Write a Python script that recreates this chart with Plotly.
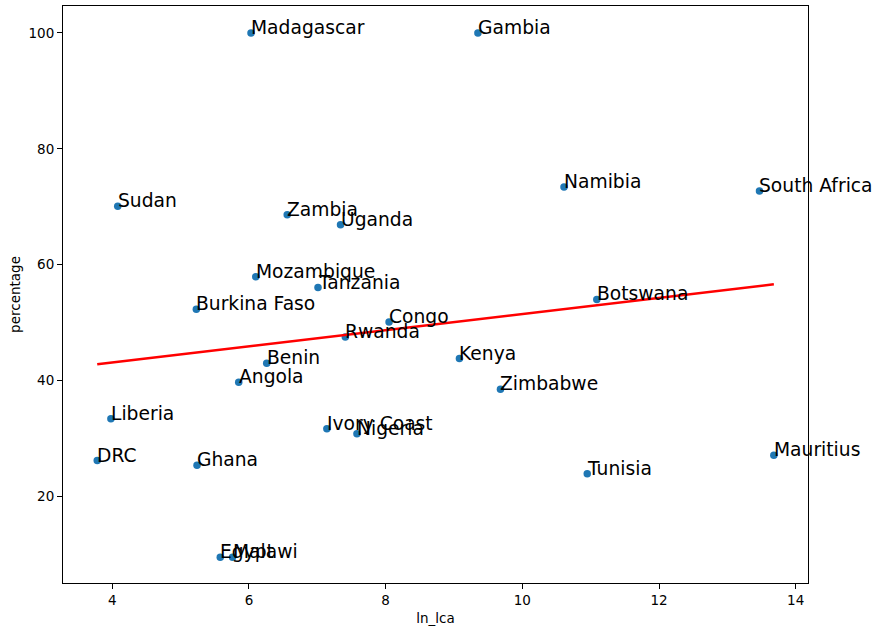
import plotly.graph_objects as go

countries = ["Madagascar", "Gambia", "Sudan", "Zambia", "Uganda", "Mozambique", "Tanzania",
             "Burkina Faso", "Congo", "Rwanda", "Benin", "Angola", "Kenya", "Liberia",
             "Ivory Coast", "Nigeria", "DRC", "Ghana", "Egypt", "Malawi", "Namibia",
             "South Africa", "Botswana", "Zimbabwe", "Tunisia", "Mauritius"]
ln_lca = [6.03, 9.35, 4.08, 6.56, 7.34, 6.10, 7.01,
          5.23, 8.05, 7.41, 6.26, 5.85, 9.08, 3.98,
          7.14, 7.58, 3.78, 5.24, 5.58, 5.76, 10.61,
          13.47, 11.09, 9.68, 10.95, 13.68]
percentage = [100.0, 100.0, 70.1, 68.6, 66.9, 57.9, 56.05,
              52.3, 50.1, 47.5, 43.0, 39.7, 43.8, 33.4,
              31.7, 30.8, 26.2, 25.4, 9.5, 9.5, 73.4,
              72.7, 54.0, 38.5, 23.9, 27.1]
fit_x = [3.78, 13.68]
fit_y = [42.8, 56.6]

x_ticks = [4, 6, 8, 10, 12, 14]
y_ticks = [20, 40, 60, 80, 100]

fig = go.Figure()
fig.add_trace(go.Scatter(x=ln_lca, y=percentage, mode="markers",
                         marker=dict(color="#1f77b4", size=7.5), showlegend=False))
fig.add_trace(go.Scatter(x=fit_x, y=fit_y, mode="lines",
                         line=dict(color="red", width=2.5), showlegend=False))

for name, xv, yv in zip(countries, ln_lca, percentage):
    fig.add_annotation(x=xv, y=yv, text=name, showarrow=False,
                       xanchor="left", yanchor="bottom", xshift=-2, yshift=-7,
                       font=dict(family="DejaVu Sans", size=18.7, color="black"))

axis_common = dict(showline=True, linecolor="black", linewidth=1, mirror=True,
                   ticks="outside", ticklen=5, tickcolor="black", showgrid=False,
                   zeroline=False, tickfont=dict(family="DejaVu Sans", size=13.5, color="black"))
fig.update_xaxes(range=[3.279, 14.18], tickvals=x_ticks,
                 title=dict(text="ln_lca", font=dict(family="DejaVu Sans", size=13.5, color="black"), standoff=6),
                 **axis_common)
fig.update_yaxes(range=[5.06, 104.64], tickvals=y_ticks,
                 title=dict(text="percentage", font=dict(family="DejaVu Sans", size=13.5, color="black"), standoff=4),
                 **axis_common)
fig.update_layout(width=877, height=629, plot_bgcolor="white", paper_bgcolor="white",
                  margin=dict(l=63, r=69, t=5, b=43), showlegend=False)
fig.write_html("out.html", config={"displayModeBar": False},
               post_script="document.body.style.margin='0';")
